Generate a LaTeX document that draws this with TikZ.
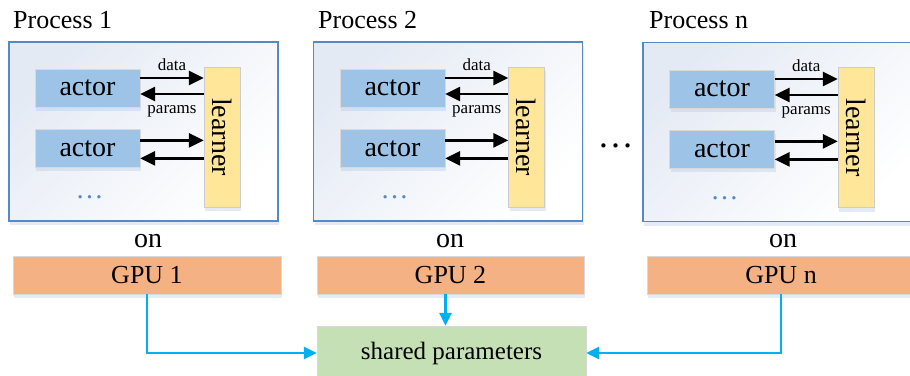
\documentclass[tikz,border=0pt]{standalone}
\usepackage{fontspec}
\setmainfont{Liberation Serif}
\usetikzlibrary{arrows.meta, positioning, shadows}

\definecolor{actorblue}{RGB}{157,195,230}
\definecolor{learneryellow}{RGB}{255,230,153}
\definecolor{gpuorange}{RGB}{244,177,131}
\definecolor{sharedgreen}{RGB}{197,224,180}
\definecolor{boxblue}{RGB}{84,138,199}
\definecolor{procfill}{RGB}{228,234,244}
\definecolor{linkcyan}{RGB}{0,176,240}
\definecolor{shadowblue}{RGB}{170,190,225}

\begin{document}
\begin{tikzpicture}[x = 1pt, y = -1pt, % one unit is one pixel, y downwards
                flow/.style = {line width = 2.8pt, -{Triangle[length=15pt, width=14pt]}},
                link/.style = {draw = linkcyan, line width = 2.5pt, -{Triangle[length=13pt, width=12pt]}}
            ]

            \tikzstyle{every node}=[inner sep = 0pt]
            \tikzstyle{soft}=[drop shadow = {shadow xshift = 1pt, shadow yshift = -4pt,
            opacity = .3, fill = shadowblue}]
            \tikzstyle{proc}=[soft, draw = boxblue, line width = 1.8pt, top color = procfill,
            bottom color = white, shading angle = 45, minimum width = 269pt, minimum height = 179pt]
            \tikzstyle{title}=[font = \fontsize{26}{30}\selectfont, anchor = base west]
            \tikzstyle{actor}=[soft, draw = black!15, fill = actorblue, minimum width = 105pt,
            minimum height = 38pt, font = \fontsize{28}{30}\selectfont]
            \tikzstyle{learner}=[soft, draw = black!20, fill = learneryellow, minimum width = 36pt,
            minimum height = 140pt, font = \fontsize{28}{30}\selectfont]
            \tikzstyle{lbl}=[font = \fontsize{17}{19}\selectfont]
            \tikzstyle{dots}=[text = boxblue, anchor = base, font = \fontsize{28}{30}\selectfont]
            \tikzstyle{ontext}=[anchor = base, font = \fontsize{28}{30}\selectfont]
            \tikzstyle{gpu}=[soft, draw = black!15, fill = gpuorange, minimum width = 268pt,
            minimum height = 38pt, font = \fontsize{26}{30}\selectfont]
            \tikzstyle{shared}=[soft, draw = black!15, fill = sharedgreen, minimum width = 269pt,
            minimum height = 54pt, font = \fontsize{25}{30}\selectfont]

            \useasboundingbox (0,0) rectangle (910,375);
            \clip (0,0) rectangle (910,375);

            % the three processes
            \node[proc] (p1) at (143.5,131.5) {}; \node[proc] (p2) at (448,131.5) {};
            \node[proc, minimum width = 272pt] (p3) at (779,132) {};
            \node[title] (t1) at (13,28) {Process 1}; \node[title] (t2) at (318,28) {Process 2};
            \node[title] (t3) at (649,28) {Process n};

            % process 1
            \node[actor] (a11) at (87.5,88) {actor}; \node[actor, below = 22pt of a11] (a12) {actor};
            \node[learner] (l1) at (222,137) {\rotatebox{-90}{learner}};
            \node[dots] (d1) at (89.5,198) {…};
            \draw[flow] ([yshift=10pt]a11.east) -- ([yshift=10pt]a11.east -| l1.west)
            node[lbl, midway, above = 6pt] {data};
            \draw[flow] ([yshift=-6pt]a11.east -| l1.west) -- ([yshift=-6pt]a11.east)
            node[lbl, midway, below = 10pt] {params};
            \draw[flow] ([yshift=8pt]a12.east) -- ([yshift=8pt]a12.east -| l1.west);
            \draw[flow] ([yshift=-10pt]a12.east -| l1.west) -- ([yshift=-10pt]a12.east);

            % process 2
            \node[actor] (a21) at (392.5,88) {actor}; \node[actor, below = 22pt of a21] (a22) {actor};
            \node[learner] (l2) at (526.5,137) {\rotatebox{-90}{learner}};
            \node[dots] (d2) at (394.5,198) {…};
            \draw[flow] ([yshift=10pt]a21.east) -- ([yshift=10pt]a21.east -| l2.west)
            node[lbl, midway, above = 6pt] {data};
            \draw[flow] ([yshift=-6pt]a21.east -| l2.west) -- ([yshift=-6pt]a21.east)
            node[lbl, midway, below = 10pt] {params};
            \draw[flow] ([yshift=8pt]a22.east) -- ([yshift=8pt]a22.east -| l2.west);
            \draw[flow] ([yshift=-10pt]a22.east -| l2.west) -- ([yshift=-10pt]a22.east);

            % process n
            \node[actor] (a31) at (722,89) {actor}; \node[actor, below = 22pt of a31] (a32) {actor};
            \node[learner] (l3) at (856,137.5) {\rotatebox{-90}{learner}};
            \node[dots] (d3) at (724.5,199) {…};
            \draw[flow] ([yshift=10pt]a31.east) -- ([yshift=10pt]a31.east -| l3.west)
            node[lbl, midway, above = 6pt] {data};
            \draw[flow] ([yshift=-6pt]a31.east -| l3.west) -- ([yshift=-6pt]a31.east)
            node[lbl, midway, below = 10pt] {params};
            \draw[flow] ([yshift=8pt]a32.east) -- ([yshift=8pt]a32.east -| l3.west);
            \draw[flow] ([yshift=-10pt]a32.east -| l3.west) -- ([yshift=-10pt]a32.east);

            \node[anchor = base, font = \fontsize{36}{40}\selectfont] (more) at (615.5,147) {…};

            % gpus and shared parameters
            \node[ontext] (o1) at (148,247) {on}; \node[ontext] (o2) at (450,247) {on};
            \node[ontext] (o3) at (783,247) {on};
            \node[gpu] (g1) at (147,275) {GPU 1}; \node[gpu, minimum width = 267pt] (g2) at (450.5,275) {GPU 2};
            \node[gpu] (g3) at (781,275) {GPU n};
            \node[shared] (sh) at (451.5,353) {shared parameters};

            \draw[link] (g1.south) |- (sh); \draw[link] (g3.south) |- (sh);
            \draw[link] ([xshift=-5pt]g2.south) -- ([xshift=-5pt]g2.south |- sh.north);
        \end{tikzpicture}
\end{document}
